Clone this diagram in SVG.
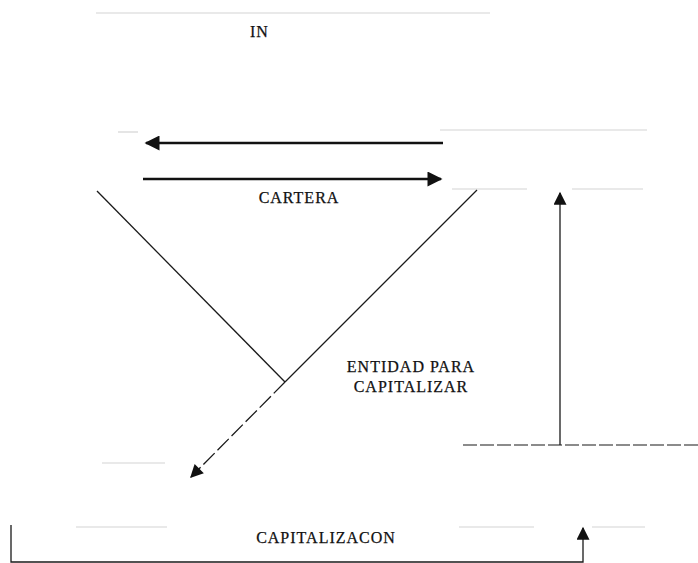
<svg xmlns="http://www.w3.org/2000/svg" width="698" height="563" viewBox="0 0 698 563">
<defs>
<style>
.t{font-family:"Liberation Serif","Times New Roman",serif;font-size:16px;fill:#111;stroke:#111;stroke-width:0.25;letter-spacing:1px}
.thick{stroke:#111;stroke-width:2.5;fill:none}
.thin{stroke:#1a1a1a;stroke-width:1.3;fill:none}
.faint{stroke:#d4d4d4;stroke-width:1.2;fill:none}
.mid{stroke:#666;stroke-width:1.3;fill:none;stroke-dasharray:14 3}
</style>
<marker id="ah" viewBox="0 0 10 10" refX="9" refY="5" markerWidth="16" markerHeight="15" orient="auto" markerUnits="userSpaceOnUse"><path d="M0,0 L10,5 L0,10 z" fill="#111"/></marker>
<marker id="ahs" viewBox="0 0 10 10" refX="9" refY="5" markerWidth="14" markerHeight="13" orient="auto" markerUnits="userSpaceOnUse"><path d="M0,0 L10,5 L0,10 z" fill="#111"/></marker>
</defs>
<rect width="698" height="563" fill="#fff"/>
<g id="faint-lines">
<line class="faint" x1="96" y1="13" x2="490" y2="13"/>
<line class="faint" x1="118" y1="132" x2="138" y2="132"/>
<line class="faint" x1="440" y1="130" x2="647" y2="130"/>
<line class="faint" x1="452" y1="189" x2="527" y2="189"/>
<line class="faint" x1="572" y1="189" x2="643" y2="189"/>
<line class="faint" x1="102" y1="463" x2="165" y2="463"/>
<line class="faint" x1="76" y1="527" x2="167" y2="527"/>
<line class="faint" x1="459" y1="527" x2="534" y2="527"/>
<line class="faint" x1="592" y1="527" x2="645" y2="527"/>
<line class="mid" x1="463" y1="445" x2="698" y2="445"/>
</g>
<g id="node-in"><text class="t" x="250" y="37">IN</text></g>
<g id="node-cartera"><text class="t" x="299" y="203" text-anchor="middle">CARTERA</text></g>
<g id="node-entidad"><text class="t" x="411" y="372" text-anchor="middle">ENTIDAD PARA</text><text class="t" x="411" y="392" text-anchor="middle">CAPITALIZAR</text></g>
<g id="node-capitalizacion"><text class="t" x="326" y="543" text-anchor="middle">CAPITALIZACON</text></g>
<g id="connectors">
<line class="thick" x1="443" y1="143" x2="146" y2="143" marker-end="url(#ah)"/>
<line class="thick" x1="143" y1="179" x2="441" y2="179" marker-end="url(#ah)"/>
<line class="thin" x1="97" y1="191" x2="285" y2="382"/>
<line class="thin" x1="477" y1="190" x2="285" y2="382"/>
<line class="thin" x1="285" y1="382" x2="191" y2="477" stroke-dasharray="16 4" marker-end="url(#ahs)"/>
<line class="thin" stroke-width="1.5" x1="560" y1="445" x2="560" y2="193" marker-end="url(#ahs)"/>
<polyline class="thin" stroke="#333" points="11,525 11,562 583,562 583,528" marker-end="url(#ahs)"/>
</g>
</svg>
